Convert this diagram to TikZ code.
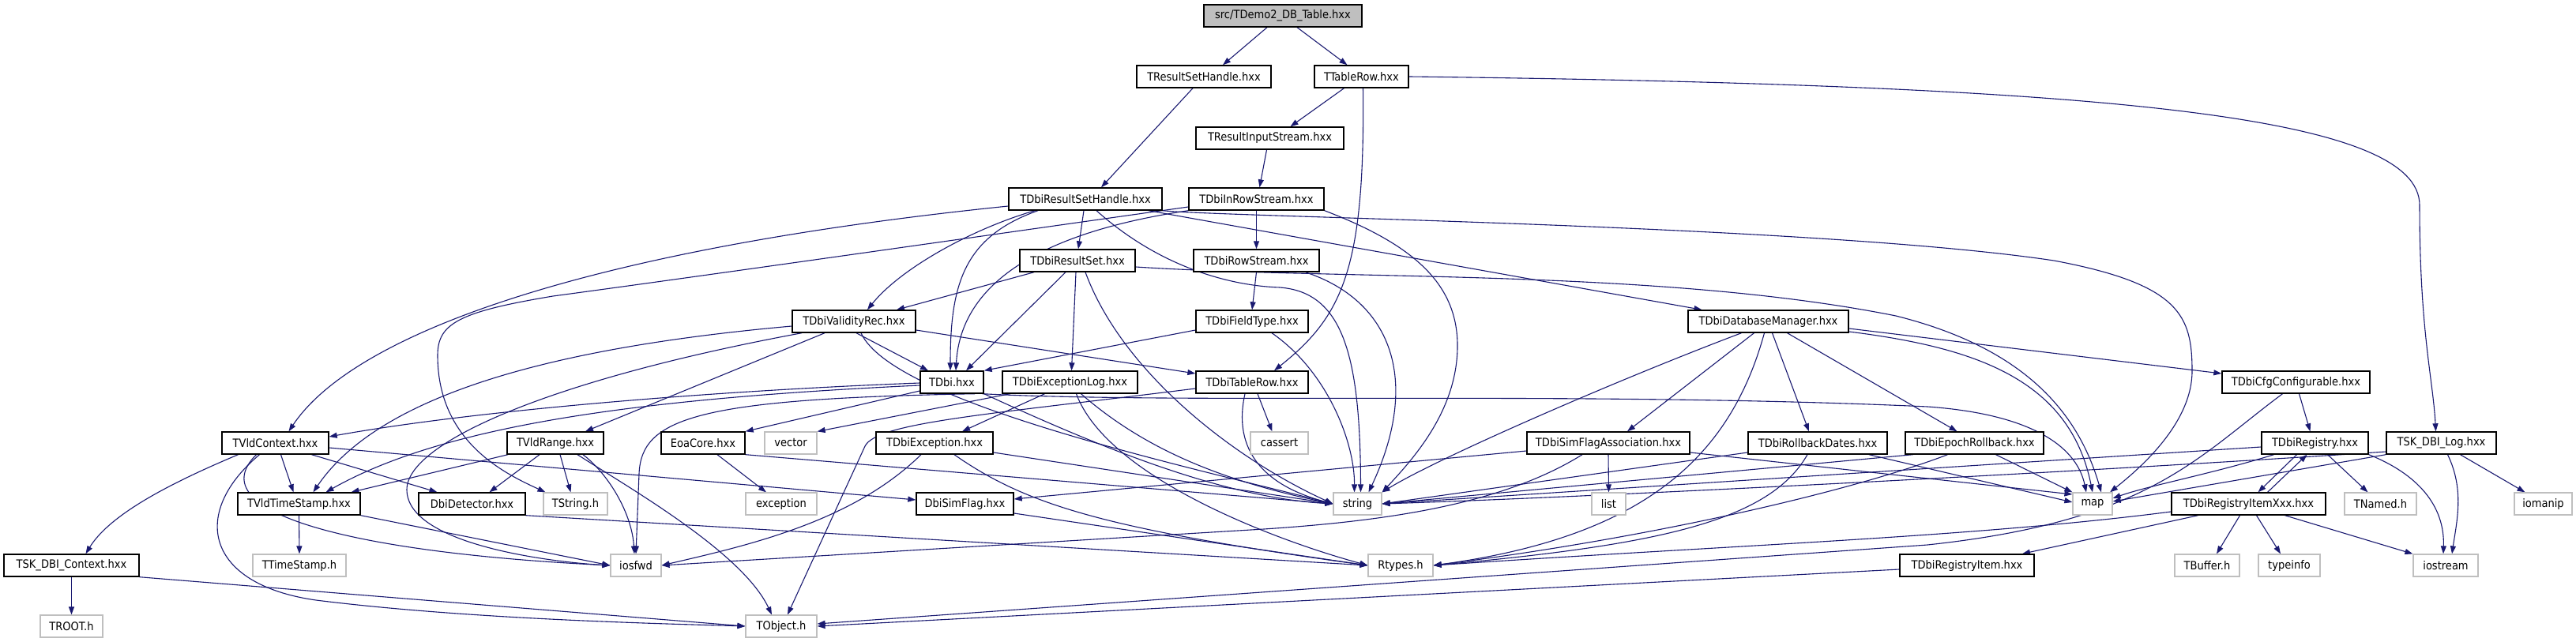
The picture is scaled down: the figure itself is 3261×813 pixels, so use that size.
\documentclass[tikz,border=0pt]{standalone}
\usepackage{fontspec}
\setmainfont{DejaVu Sans Condensed}
\usetikzlibrary{arrows.meta}
\pgfdeclarelayer{bg}
\pgfsetlayers{bg,main}
\definecolor{edgec}{HTML}{191970}
\definecolor{grayb}{HTML}{BFBFBF}
\begin{document}
\begin{tikzpicture}[x=1pt,y=-1pt,
 nd/.style={draw=black, fill=white, line width=1.4pt, minimum height=28pt, inner sep=0pt, font=\fontsize{14.5}{17}\selectfont},
 gy/.style={nd, draw=grayb, line width=1.2pt},
 rootnd/.style={nd, fill=grayb},
 edg/.style={draw=edgec, line width=1.1pt, -{Triangle[length=10pt,width=7pt]}}]
\useasboundingbox (0,0) rectangle (3261,813);
\node[rootnd, minimum width=200pt] (root) at (1624,20) {src/TDemo2\_DB\_Table.hxx};
\node[nd, minimum width=170pt] (rsh) at (1524,97) {TResultSetHandle.hxx};
\node[nd, minimum width=119pt] (ttr) at (1723.5,97) {TTableRow.hxx};
\node[nd, minimum width=187pt] (ris) at (1607.5,175) {TResultInputStream.hxx};
\node[nd, minimum width=194pt] (drsh) at (1374,252) {TDbiResultSetHandle.hxx};
\node[nd, minimum width=171pt] (dirs) at (1590.5,252) {TDbiInRowStream.hxx};
\node[nd, minimum width=146pt] (drs) at (1364,330) {TDbiResultSet.hxx};
\node[nd, minimum width=159pt] (drow) at (1590.5,330) {TDbiRowStream.hxx};
\node[nd, minimum width=156pt] (dvr) at (1081,407) {TDbiValidityRec.hxx};
\node[nd, minimum width=142pt] (dft) at (1585,407) {TDbiFieldType.hxx};
\node[nd, minimum width=203pt] (ddm) at (2238.5,407) {TDbiDatabaseManager.hxx};
\node[nd, minimum width=80pt] (dbi) at (1205,484) {TDbi.hxx};
\node[nd, minimum width=171pt] (del) at (1354.5,484) {TDbiExceptionLog.hxx};
\node[nd, minimum width=142pt] (dtr) at (1585,484) {TDbiTableRow.hxx};
\node[nd, minimum width=187pt] (dcc) at (2906.5,484) {TDbiCfgConfigurable.hxx};
\node[nd, minimum width=135pt] (vc) at (348.5,561) {TVldContext.hxx};
\node[nd, minimum width=122pt] (vr) at (703,561) {TVldRange.hxx};
\node[nd, minimum width=106pt] (eoa) at (890,561) {EoaCore.hxx};
\node[gy, minimum width=66pt] (vec) at (1001,561) {vector};
\node[nd, minimum width=148pt] (dex) at (1183,561) {TDbiException.hxx};
\node[gy, minimum width=73pt] (cas) at (1619.5,561) {cassert};
\node[nd, minimum width=206pt] (dsfa) at (2036,561) {TDbiSimFlagAssociation.hxx};
\node[nd, minimum width=176pt] (drd) at (2301,561) {TDbiRollbackDates.hxx};
\node[nd, minimum width=175pt] (der) at (2499.5,561) {TDbiEpochRollback.hxx};
\node[nd, minimum width=135pt] (dreg) at (2930.5,561) {TDbiRegistry.hxx};
\node[nd, minimum width=139pt] (log) at (3090.5,561) {TSK\_DBI\_Log.hxx};
\node[nd, minimum width=155pt] (vts) at (378.5,638) {TVldTimeStamp.hxx};
\node[nd, minimum width=135pt] (dd) at (597.5,638) {DbiDetector.hxx};
\node[gy, minimum width=81pt] (tstr) at (728.5,638) {TString.h};
\node[gy, minimum width=90pt] (exc) at (989,638) {exception};
\node[nd, minimum width=123pt] (dsf) at (1221.5,638) {DbiSimFlag.hxx};
\node[gy, minimum width=61pt] (str) at (1718.5,638) {string};
\node[gy, minimum width=43pt] (lst) at (2036.5,638) {list};
\node[gy, minimum width=50pt] (map) at (2649,638) {map};
\node[nd, minimum width=195pt] (drix) at (2846.5,638) {TDbiRegistryItemXxx.hxx};
\node[gy, minimum width=91pt] (tnam) at (3013.5,638) {TNamed.h};
\node[gy, minimum width=73pt] (iom) at (3219.5,638) {iomanip};
\node[nd, minimum width=171pt] (sdc) at (90.5,716) {TSK\_DBI\_Context.hxx};
\node[gy, minimum width=118pt] (tts) at (379,716) {TTimeStamp.h};
\node[gy, minimum width=64pt] (iosf) at (805,716) {iosfwd};
\node[gy, minimum width=82pt] (rty) at (1773,716) {Rtypes.h};
\node[nd, minimum width=170pt] (dri) at (2490,716) {TDbiRegistryItem.hxx};
\node[gy, minimum width=82pt] (tbuf) at (2794,716) {TBuffer.h};
\node[gy, minimum width=78pt] (tinf) at (2898,716) {typeinfo};
\node[gy, minimum width=82pt] (ios) at (3096,716) {iostream};
\node[gy, minimum width=79pt] (troot) at (90.5,793) {TROOT.h};
\node[gy, minimum width=90pt] (tobj) at (989,793) {TObject.h};
\begin{pgfonlayer}{bg}
\draw[edg] ([xshift=-20]root.south) -- ([xshift=24]rsh.north);
\draw[edg] ([xshift=18]root.south) -- ([xshift=-18]ttr.north);
\draw[edg] ([xshift=-14]rsh.south) -- ([xshift=20]drsh.north);
\draw[edg] ([xshift=-22]ttr.south) -- ([xshift=26]ris.north);
\draw[edg] ([xshift=2]ttr.south) .. controls (1728,340) and (1700,400) .. ([xshift=28]dtr.north);
\draw[edg] (ttr.east) .. controls (2700,108) and (3063,150) .. (3063,260) .. controls (3063,420) and (3080,480) .. ([xshift=-7]log.north);
\draw[edg] ([xshift=-4]ris.south) -- ([xshift=4]dirs.north);
\draw[edg] ([xshift=-2]drsh.south) -- ([xshift=1]drs.north);
\draw[edg] ([xshift=-64]drsh.south) .. controls (1230,290) and (1140,340) .. ([xshift=17]dvr.north);
\draw[edg] ([xshift=-60]drsh.south) .. controls (1220,300) and (1203,360) .. ([xshift=-2]dbi.north);
\draw[edg] ([yshift=-9]drsh.west) .. controls (750,315) and (450,420) .. ([xshift=17]vc.north);
\draw[edg] ([xshift=14]drsh.south) .. controls (1470,340) and (1560,362) .. (1620,364) .. controls (1700,370) and (1722,450) .. ([xshift=4]str.north);
\draw[edg] ([xshift=80]drsh.south) -- ([xshift=-84]ddm.north);
\draw[edg] (drsh.south east) .. controls (1550,275) and (2300,285) .. (2600,330) .. controls (2760,360) and (2775,400) .. (2775,470) .. controls (2775,540) and (2700,600) .. ([xshift=22]map.north);
\draw[edg] (dirs.south west) .. controls (1280,300) and (1215,380) .. ([xshift=5]dbi.north);
\draw[edg] ([yshift=-10]dirs.west) .. controls (1200,305) and (900,348) .. (700,375) .. controls (580,395) and (554,410) .. (554,450) .. controls (554,560) and (640,600) .. ([xshift=-38]tstr.north);
\draw[edg] (dirs.south) -- (drow.north);
\draw[edg] (dirs.south east) .. controls (1790,310) and (1846,360) .. (1845,440) .. controls (1844,520) and (1790,580) .. (str.north east);
\draw[edg] ([xshift=-55]drs.south) -- ([xshift=54]dvr.north);
\draw[edg] ([xshift=-15]drs.south) -- ([xshift=18]dbi.north);
\draw[edg] ([xshift=-2]drs.south) -- ([xshift=2]del.north);
\draw[edg] ([xshift=10]drs.south) .. controls (1420,470) and (1560,580) .. (str.west);
\draw[edg] ([yshift=-8]drs.east) .. controls (1700,355) and (2100,340) .. (2400,400) .. controls (2560,440) and (2630,520) .. ([xshift=11]map.north);
\draw[edg] (drow.south) -- (dft.north);
\draw[edg] ([xshift=62]drow.south) .. controls (1760,380) and (1800,480) .. ([xshift=14]str.north);
\draw[edg] ([xshift=25]dft.south) .. controls (1680,470) and (1715,560) .. ([xshift=-4]str.north);
\draw[edg] ([yshift=-11]dft.west) -- (dbi.north east);
\draw[edg] ([yshift=-6]dvr.west) .. controls (700,440) and (480,500) .. ([xshift=18]vts.north);
\draw[edg] ([xshift=-37]dvr.south) -- ([xshift=38]vr.north);
\draw[edg] ([xshift=-66]dvr.south) .. controls (700,480) and (515,560) .. (515,620) .. controls (515,690) and (700,712) .. (iosf.west);
\draw[edg] ([xshift=3]dvr.south) -- ([xshift=-30]dbi.north);
\draw[edg] ([xshift=9]dvr.south) .. controls (1130,510) and (1500,590) .. (str.west);
\draw[edg] ([yshift=-11]dvr.east) -- ([yshift=11]dtr.west);
\draw[edg] ([yshift=-1]dbi.west) .. controls (900,495) and (600,520) .. ([yshift=8]vc.east);
\draw[edg] ([yshift=-4]dbi.west) .. controls (800,505) and (560,540) .. ([xshift=34]vts.north);
\draw[edg] ([yshift=-11]dbi.west) -- (eoa.north east);
\draw[edg] (dbi.south east) .. controls (1400,570) and (1550,630) .. (str.west);
\draw[edg] ([xshift=-2]dbi.south east) .. controls (1500,512) and (2000,495) .. (2440,515) .. controls (2580,525) and (2630,570) .. ([xshift=-8]map.north);
\draw[edg] ([xshift=29]dbi.south) .. controls (880,505) and (812,530) .. (809,600) -- (iosf.north);
\draw[edg] ([xshift=-76]del.south) -- (vec.north east);
\draw[edg] ([xshift=-32]del.south) -- ([xshift=35]dex.north);
\draw[edg] ([xshift=14]del.south) .. controls (1450,570) and (1550,610) .. (str.west);
\draw[edg] ([xshift=8]del.south) .. controls (1400,600) and (1600,680) .. (rty.west);
\draw[edg] ([xshift=7]dtr.south) -- ([xshift=-9]cas.north);
\draw[edg] ([xshift=-9]dtr.south) .. controls (1560,570) and (1600,615) .. (str.west);
\draw[edg] ([yshift=-8]dtr.west) .. controls (1250,525) and (1110,535) .. (1095,565) -- ([xshift=8]tobj.north);
\draw[edg] ([xshift=7]vc.south) -- ([xshift=-7]vts.north);
\draw[edg] ([xshift=46]vc.south) -- ([xshift=-44]dd.north);
\draw[edg] ([xshift=-47]vc.south) .. controls (220,610) and (140,650) .. ([xshift=18]sdc.north);
\draw[edg] ([xshift=-24]vc.south) .. controls (250,650) and (450,700) .. (iosf.west);
\draw[edg] ([xshift=-20]vc.south) .. controls (240,650) and (260,740) .. (400,760) .. controls (600,785) and (850,790) .. (tobj.west);
\draw[edg] ([yshift=-6]vc.east) -- ([yshift=5]dsf.west);
\draw[edg] ([xshift=-60]vr.south) -- ([xshift=66]vts.north);
\draw[edg] ([xshift=-20]vr.south) -- ([xshift=22]dd.north);
\draw[edg] ([xshift=6]vr.south) -- ([xshift=-6]tstr.north);
\draw[edg] ([xshift=35]vr.south) .. controls (770,600) and (800,650) .. ([xshift=-2]iosf.north);
\draw[edg] ([xshift=28]vr.south) .. controls (800,620) and (940,700) .. ([xshift=-12]tobj.north);
\draw[edg] (vts.south) -- (tts.north);
\draw[edg] (vts.south east) -- (iosf.west);
\draw[edg] (sdc.south) -- (troot.north);
\draw[edg] (sdc.south east) -- (tobj.west);
\draw[edg] (dd.south east) -- (rty.west);
\draw[edg] ([xshift=18]eoa.south) -- ([xshift=-19]exc.north);
\draw[edg] (eoa.south east) -- (str.west);
\draw[edg] ([xshift=-17]dex.south) .. controls (1080,660) and (950,690) .. (iosf.east);
\draw[edg] ([yshift=-12]dex.east) -- (str.west);
\draw[edg] ([xshift=25]dex.south) .. controls (1300,640) and (1400,670) .. (rty.west);
\draw[edg] ([yshift=-12]dsf.east) -- (rty.west);
\draw[edg] ([yshift=-10]dsfa.west) -- ([yshift=6]dsf.east);
\draw[edg] (dsfa.south) -- (lst.north);
\draw[edg] ([xshift=-33]dsfa.south) .. controls (1900,640) and (1750,660) .. (1600,670) -- (iosf.east);
\draw[edg] ([yshift=-12]dsfa.east) -- ([yshift=12]map.west);
\draw[edg] ([xshift=-34]ddm.south) .. controls (2050,480) and (1820,580) .. (str.north east);
\draw[edg] ([xshift=-18]ddm.south) -- ([xshift=24]dsfa.north);
\draw[edg] ([xshift=-5]ddm.south) .. controls (2190,580) and (2080,680) .. (rty.east);
\draw[edg] ([xshift=5]ddm.south) -- ([xshift=-11]drd.north);
\draw[edg] ([xshift=24]ddm.south) -- ([xshift=-22]der.north);
\draw[edg] ([yshift=-9]ddm.east) -- ([yshift=11]dcc.west);
\draw[edg] ([yshift=-13]ddm.east) .. controls (2500,440) and (2620,480) .. (map.north);
\draw[edg] ([yshift=-12]drd.west) -- (str.east);
\draw[edg] ([xshift=-13]drd.south) .. controls (2240,660) and (2100,690) .. (rty.east);
\draw[edg] ([xshift=65]drd.south) -- ([yshift=2]map.west);
\draw[edg] ([xshift=-78]der.south) -- (str.east);
\draw[edg] ([xshift=-34]der.south) .. controls (2350,620) and (2100,680) .. (rty.east);
\draw[edg] ([xshift=27]der.south) -- (map.north west);
\draw[edg] ([xshift=4]dcc.south) -- ([xshift=-6]dreg.north);
\draw[edg] ([xshift=-17]dcc.south) .. controls (2780,580) and (2720,660) .. (2440,690) -- ([yshift=3]tobj.east);
\draw[edg] ([yshift=-5]dri.west) -- (tobj.east);
\draw[edg] ([yshift=-5]dreg.west) -- (str.east);
\draw[edg] ([xshift=-52]dreg.south) .. controls (2800,600) and (2720,615) .. ([yshift=7]map.east);
\draw[edg] ([xshift=-23]dreg.south) -- ([xshift=12]drix.north);
\draw[edg] ([xshift=24]drix.north) -- ([xshift=-10]dreg.south);
\draw[edg] ([xshift=16]dreg.south) -- ([xshift=-16]tnam.north);
\draw[edg] (dreg.south east) .. controls (3060,600) and (3095,640) .. ([xshift=-3]ios.north);
\draw[edg] ([xshift=-11]drix.south) -- ([xshift=12]tbuf.north);
\draw[edg] ([xshift=10]drix.south) -- ([xshift=-11]tinf.north);
\draw[edg] ([xshift=46]drix.south) -- (ios.north west);
\draw[edg] ([yshift=-10]drix.west) .. controls (2500,680) and (2200,690) .. (rty.east);
\draw[edg] ([xshift=-64]drix.south) -- ([xshift=70]dri.north);
\draw[edg] ([yshift=-11]log.west) .. controls (2600,600) and (2000,630) .. (str.east);
\draw[edg] (log.south west) -- ([yshift=3]map.east);
\draw[edg] ([xshift=8]log.south) .. controls (3120,620) and (3110,660) .. ([xshift=8]ios.north);
\draw[edg] ([xshift=24]log.south) -- ([xshift=-23]iom.north);
\end{pgfonlayer}
\end{tikzpicture}
\end{document}
